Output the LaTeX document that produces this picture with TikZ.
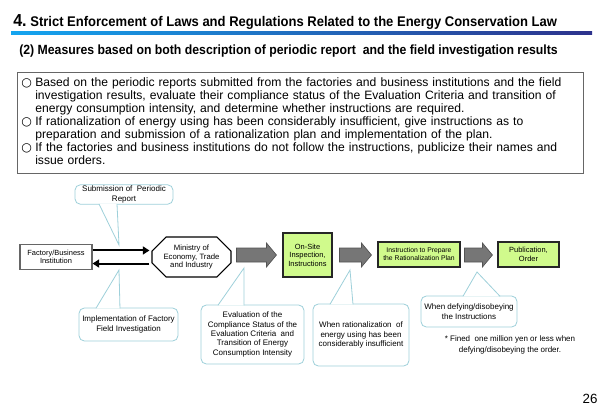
\documentclass[tikz,border=0pt]{standalone}
\usepackage{fontspec}
\setmainfont{Liberation Sans}
\newfontfamily\symbolfont{DejaVu Sans}
\usetikzlibrary{positioning,calc,shapes.misc,arrows.meta}

\definecolor{boxgreen}{RGB}{208,250,140}
\definecolor{arrowgray}{RGB}{118,118,118}
\definecolor{calloutblue}{RGB}{158,208,218}
\definecolor{titlecyan}{RGB}{20,165,240}
\definecolor{titlenavy}{RGB}{45,50,140}

\newcommand{\circitem}{\par\noindent\hangindent=10.5pt\hangafter=1\makebox[10.5pt][l]{\symbolfont ○}}
% gray block arrow from #1 to #2 (body 14px, head 24px wide, 10px long)
\newcommand{\blockarrow}[2]{%
  \filldraw[blockarrowstyle] ($(#1)+(0,-7)$) -- ($(#2)+(-10,-7)$) -- ($(#2)+(-10,-12)$) -- (#2)
    -- ($(#2)+(-10,12)$) -- ($(#2)+(-10,7)$) -- ($(#1)+(0,7)$) -- cycle;}

\tikzset{
  flowbox/.style={draw=black!85, fill=boxgreen, line width=0.8pt, align=center, inner sep=1pt,
    font=\fontsize{5.6}{6.4}\selectfont},
  plainbox/.style={draw=black!60, fill=white, line width=0.8pt, align=center, inner sep=1pt,
    font=\fontsize{5.6}{6.4}\selectfont},
  ministrybox/.style={chamfered rectangle, chamfered rectangle xsep=7pt, draw=black, line width=0.8pt,
    align=center, inner sep=1pt, font=\fontsize{5.8}{6.4}\selectfont},
  blockarrowstyle/.style={draw=arrowgray!70!black, fill=arrowgray, line width=0.5pt},
  flowarrow/.style={line width=1.5pt, -{Triangle[length=5pt,width=6pt]}},
  callout/.style={draw=calloutblue, fill=white, line width=0.6pt, rounded corners=4pt, align=center,
    inner sep=1pt, font=\fontsize{6}{7}\selectfont},
  tail/.style={draw=calloutblue, fill=white, line width=0.6pt}
}

\begin{document}
\begin{tikzpicture}[x=0.75pt, y=-0.75pt]
  \useasboundingbox (0,0) rectangle (600,415);

  % heading
  \node[anchor=base west, inner sep=0pt] (title) at (13,26)
    {\scalebox{0.93}[1]{\bfseries\fontsize{13}{13}\selectfont 4.\fontsize{10.5}{10.5}\selectfont\ Strict Enforcement of Laws and Regulations Related to the Energy Conservation Law}};
  \shade[left color=titlecyan, right color=titlenavy] (11,31) rectangle (592,34);
  \node[anchor=base west, inner sep=0pt] (subtitle) at (19,54)
    {\scalebox{0.92}[1]{\bfseries\fontsize{10}{10}\selectfont (2) Measures based on both description of periodic report \ and the field investigation results}};

  % text box
  \node[draw=black!60, line width=0.8pt, anchor=north west, minimum width=424.5pt, minimum height=75.75pt,
    inner sep=0pt] (measuresbox) at (17,72) {};
  \node[anchor=north west, inner sep=0pt, text width=440pt, align=left, font=\fontsize{9.1}{9.75}\selectfont]
    (measures) at (21,73) {%
    \circitem Based on the periodic reports submitted from the factories and business institutions and the field\newline
      investigation results, evaluate their compliance status of the Evaluation Criteria and transition of\newline
      energy consumption intensity, and determine whether instructions are required.
    \circitem If rationalization of energy using has been considerably insufficient, give instructions as to\newline
      preparation and submission of a rationalization plan and implementation of the plan.
    \circitem If the factories and business institutions do not follow the instructions, publicize their names and\newline
      issue orders.\par};

  % flow
  \node[plainbox, minimum width=54pt, minimum height=18.75pt] (factory) at (56,257) {Factory/Business\\Institution};
  \node[ministrybox, minimum width=59.25pt, minimum height=30pt] (ministry) at (191.5,257) {Ministry of\\Economy, Trade\\and Industry};
  \node[flowbox, minimum width=36.75pt, minimum height=33pt] (onsite) at (307.5,255) {On-Site\\Inspection,\\Instructions};
  \node[flowbox, minimum width=61.5pt, minimum height=18.75pt, font=\fontsize{5.1}{6}\selectfont] (prepare) at (419,254.5) {Instruction to Prepare\\the Rationalization Plan};
  \node[flowbox, minimum width=45.75pt, minimum height=18.75pt] (publication) at (528.5,254.5) {Publication,\\Order};

  \draw[flowarrow, shorten >=1.5pt] ([yshift=4.9pt]factory.east) -- ([yshift=4.9pt]ministry.west);
  \draw[flowarrow, shorten <=1.5pt] ([yshift=-4.9pt]ministry.west) -- ([yshift=-4.9pt]factory.east);

  \coordinate (arrowAstart) at ($(ministry.east |- onsite.west)+(5,0)$);
  \coordinate (arrowAend) at ($(onsite.west)+(-6,0)$);
  \coordinate (arrowBstart) at ($(onsite.east)+(7,0)$);
  \coordinate (arrowBend) at ($(prepare.west |- onsite.west)+(-6,0)$);
  \coordinate (arrowCstart) at ($(prepare.east |- onsite.west)+(4,0)$);
  \coordinate (arrowCend) at ($(publication.west |- onsite.west)+(-5,0)$);
  \blockarrow{arrowAstart}{arrowAend}
  \blockarrow{arrowBstart}{arrowBend}
  \blockarrow{arrowCstart}{arrowCend}

  % callouts
  \node[callout, minimum width=73.5pt, minimum height=14.25pt] (submission) at (124,194.5) {Submission of \ Periodic\\Report};
  \node[callout, minimum width=74.25pt, minimum height=24.75pt] (implementation) at (128.5,324.5) {Implementation of Factory\\Field Investigation};
  \node[callout, minimum width=77.25pt, minimum height=44.25pt] (evaluation) at (252.5,334.5) {Evaluation of the\\Compliance Status of the\\Evaluation Criteria \ and\\Transition of Energy\\Consumption Intensity};
  \node[callout, minimum width=72pt, minimum height=46.5pt] (rationalization) at (361,335) {When rationalization \ of\\energy using has been\\considerably insufficient};
  \node[callout, minimum width=72pt, minimum height=23.25pt] (defying) at (469,311.5) {When defying/disobeying\\the Instructions};

  \coordinate (submitTip) at (119,245);
  \coordinate (implTip) at (119,270);
  \coordinate (evalTip) at (244,268);
  \coordinate (ratioTip) at (350,270);
  \coordinate (defyTip) at (477,272);

  \draw[tail] ([xshift=-18.75pt, yshift=0.5pt]submission.south) -- (submitTip) -- ([xshift=-5.25pt, yshift=0.5pt]submission.south);
  \draw[tail] ([xshift=-24.4pt, yshift=-0.5pt]implementation.north) -- (implTip) -- ([xshift=-6.4pt, yshift=-0.5pt]implementation.north);
  \draw[tail] ([xshift=-25.9pt, yshift=-0.5pt]evaluation.north) -- (evalTip) -- ([xshift=-6.4pt, yshift=-0.5pt]evaluation.north);
  \draw[tail] ([xshift=-23.25pt, yshift=-0.5pt]rationalization.north) -- (ratioTip) -- ([xshift=-6pt, yshift=-0.5pt]rationalization.north);
  \draw[tail] ([xshift=-4.5pt, yshift=-0.5pt]defying.north) -- (defyTip) -- ([xshift=23.25pt, yshift=-0.5pt]defying.north);

  \node[align=center, inner sep=0pt, font=\fontsize{6}{8.2}\selectfont] (fine) at (510,344.5)
    {* Fined \ one million yen or less when\\defying/disobeying the order.};
  \node[inner sep=0pt, font=\fontsize{10}{10}\selectfont] (pagenum) at (590,399) {26};
\end{tikzpicture}
\end{document}
